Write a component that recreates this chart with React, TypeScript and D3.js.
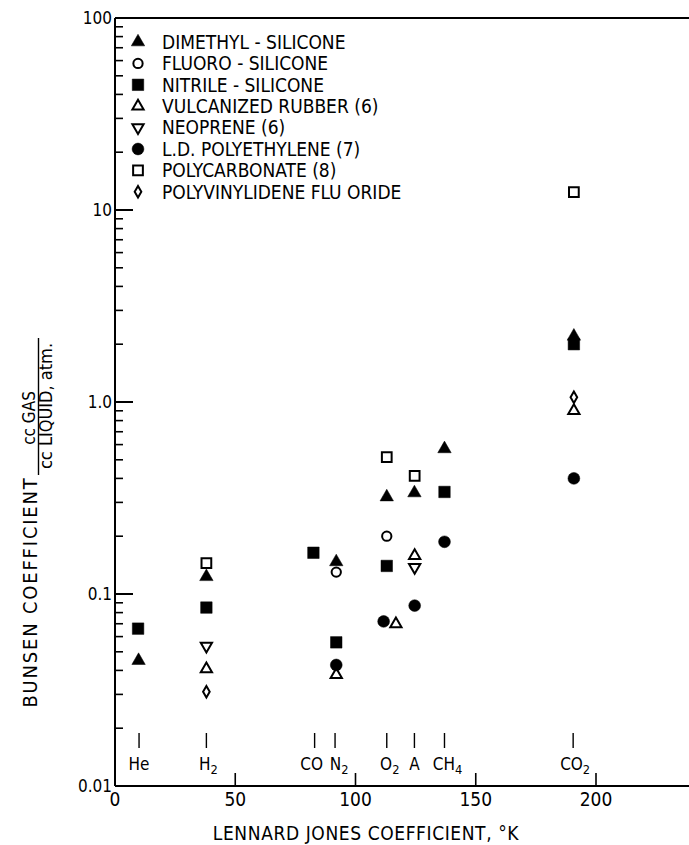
import React from "react";
import * as d3 from "d3";

// gas labels along the bottom (Lennard-Jones parameter, K)
const gasNames = ["He", "H2", "CO", "N2", "O2", "A", "CH4", "CO2"];
const gasSigma = [10, 38, 83, 91.5, 113, 124.5, 137, 190.5];
const gasLabelShift = [0, 2, -3, 4, 3, 0, 3, 2];

// [LJ coefficient, Bunsen coefficient]
const dimethyl = [[9.8, 0.045], [38, 0.123], [92, 0.147], [113, 0.32], [124.5, 0.336], [137, 0.57], [190.8, 2.2]];
const fluoro = [[92, 0.13], [113, 0.2]];
const nitrile = [[9.6, 0.066], [38, 0.085], [82.5, 0.164], [92, 0.056], [113, 0.14], [137, 0.34], [190.8, 2.0]];
const vulcanized = [[38, 0.0407], [92, 0.038], [116.8, 0.0698], [124.6, 0.158], [190.8, 0.9]];
const neoprene = [[38, 0.0536], [124.6, 0.138]];
const ldpe = [[92, 0.0427], [111.7, 0.072], [124.6, 0.087], [137, 0.187], [190.8, 0.4]];
const polycarbonate = [[38, 0.145], [113, 0.517], [124.6, 0.412], [190.8, 12.4]];
const pvdf = [[38, 0.031], [190.8, 1.06]];

const xTicks = [0, 50, 100, 150, 200];
const yMajor = [0.01, 0.1, 1, 10, 100];
const yLabels = ["0.01", "0.1", "1.0", "10", "100"];

const FONT = "'Liberation Sans Narrow', 'DejaVu Sans Condensed', sans-serif";

const series = [
  { label: "DIMETHYL - SILICONE", data: dimethyl, type: d3.symbolTriangle, size: 78, filled: true, rot: 0 },
  { label: "FLUORO - SILICONE", data: fluoro, type: d3.symbolCircle, size: 68, filled: false, rot: 0 },
  { label: "NITRILE - SILICONE", data: nitrile, type: d3.symbolSquare, size: 132, filled: true, rot: 0 },
  { label: "VULCANIZED RUBBER (6)", data: vulcanized, type: d3.symbolTriangle, size: 55, filled: false, rot: 0 },
  { label: "NEOPRENE  (6)", data: neoprene, type: d3.symbolTriangle, size: 55, filled: false, rot: 180 },
  { label: "L.D. POLYETHYLENE  (7)", data: ldpe, type: d3.symbolCircle, size: 110, filled: true, rot: 0 },
  { label: "POLYCARBONATE (8)", data: polycarbonate, type: d3.symbolSquare, size: 95, filled: false, rot: 0 },
  { label: "POLYVINYLIDENE FLU ORIDE", data: pvdf, type: d3.symbolDiamond, size: 38, filled: false, rot: 0 },
];

function Sub({ name }: { name: string }) {
  const m = name.match(/^([A-Z][A-Za-z]*?)(\d)$/);
  if (!m) return <>{name}</>;
  return (
    <>
      {m[1]}
      <tspan dy={4} fontSize="0.75em">{m[2]}</tspan>
    </>
  );
}

export default function App() {
  const width = 689, height = 845;
  const left = 115, top = 18, bottom = 786;

  const x = d3.scaleLinear().domain([0, 200]).range([left, 596]);
  const y = d3.scaleLog().domain([0.01, 100]).range([bottom, top]);

  const minor: number[] = [];
  for (let e = -2; e < 2; e++) {
    for (let k = 2; k <= 9; k++) minor.push(k * Math.pow(10, e));
  }

  const sym = (s: any) => d3.symbol().type(s.type).size(s.size)()!;

  return (
    <div style={{ position: "absolute", left: 0, top: 0 }}>
      <svg width={width} height={height} style={{ display: "block", background: "#fff" }} fontFamily={FONT}>
        {/* frame */}
        <line x1={left} x2={width} y1={top} y2={top} stroke="#000" strokeWidth={2} />
        <line x1={left} x2={width} y1={bottom} y2={bottom} stroke="#000" strokeWidth={2} />
        <line x1={left} x2={left} y1={top} y2={bottom} stroke="#000" strokeWidth={2} />

        {/* y ticks */}
        {minor.map((v, i) => (
          <line key={"m" + i} x1={left} x2={left + 8} y1={y(v)} y2={y(v)} stroke="#000" strokeWidth={1.6} />
        ))}
        {yMajor.slice(1, 4).map((v, i) => (
          <line key={"M" + i} x1={left} x2={left + 18} y1={y(v)} y2={y(v)} stroke="#000" strokeWidth={2} />
        ))}
        {yMajor.map((v, i) => (
          <text key={"yl" + i} x={left - 3} y={y(v)} dy="0.36em" textAnchor="end" fontSize={17}>
            {yLabels[i]}
          </text>
        ))}

        {/* x ticks */}
        {xTicks.slice(1).map((v, i) => (
          <line key={"xt" + i} x1={x(v)} x2={x(v)} y1={bottom} y2={bottom - 13} stroke="#000" strokeWidth={1.6} />
        ))}
        {xTicks.map((v, i) => (
          <text key={"xl" + i} x={x(v)} y={806} textAnchor="middle" fontSize={19}>
            {v}
          </text>
        ))}

        {/* gas markers */}
        {gasNames.map((g, i) => (
          <g key={g}>
            <line x1={x(gasSigma[i])} x2={x(gasSigma[i])} y1={733} y2={748} stroke="#000" strokeWidth={1.4} />
            <text x={x(gasSigma[i]) + gasLabelShift[i]} y={770} textAnchor="middle" fontSize={17}>
              <Sub name={g} />
            </text>
          </g>
        ))}

        {/* axis titles */}
        <text x={366} y={840} textAnchor="middle" fontSize={19} letterSpacing={0.6}>
          LENNARD JONES COEFFICIENT, °K
        </text>
        <text transform="translate(37,592) rotate(-90)" textAnchor="middle" fontSize={20} letterSpacing={1.8}>
          BUNSEN COEFFICIENT
        </text>
        <text transform="translate(35,418) rotate(-90)" textAnchor="middle" fontSize={17}>
          cc GAS
        </text>
        <line x1={38.5} x2={38.5} y1={338} y2={475} stroke="#000" strokeWidth={1.4} />
        <text transform="translate(52,406) rotate(-90)" textAnchor="middle" fontSize={18}>
          cc LIQUID, atm.
        </text>

        {/* data */}
        {series.map((s, si) => (
          <g key={si}>
            {s.data.map(([xv, yv], i) => (
              <path
                key={i}
                d={sym(s)}
                transform={`translate(${x(xv)},${y(yv)}) rotate(${s.rot})`}
                fill={s.filled ? "#000" : "#fff"}
                stroke="#000"
                strokeWidth={s.filled ? 0.5 : 2}
              />
            ))}
          </g>
        ))}

        {/* legend */}
        {series.map((s, i) => {
          const ly = 42 + i * 21.4;
          return (
            <g key={"lg" + i}>
              <path
                d={sym(s)}
                transform={`translate(138,${ly}) rotate(${s.rot})`}
                fill={s.filled ? "#000" : "#fff"}
                stroke="#000"
                strokeWidth={s.filled ? 0.5 : 2}
              />
              <text x={162} y={ly} dy="0.36em" fontSize={19}>
                {s.label}
              </text>
            </g>
          );
        })}
      </svg>
    </div>
  );
}
